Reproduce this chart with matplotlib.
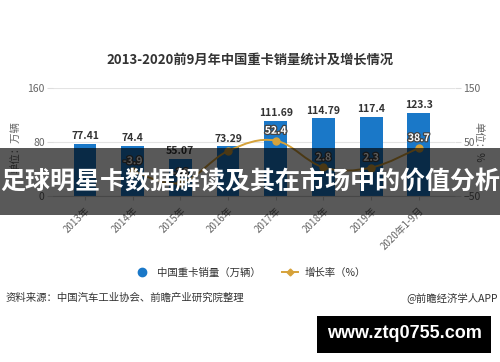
import numpy as np
import matplotlib
matplotlib.use('Agg')
import matplotlib.pyplot as plt
import matplotlib.patheffects as pe
from matplotlib.path import Path
from matplotlib.patches import PathPatch, Rectangle
from matplotlib.lines import Line2D

plt.rcParams['font.family'] = ['Noto Sans CJK SC', 'DejaVu Sans']

YEARS = ["2013年", "2014年", "2015年", "2016年", "2017年", "2018年", "2019年", "2020年1-9月"]
SALES = [77.41, 74.4, 55.07, 73.29, 111.69, 114.79, 117.4, 123.3]
# growth line starts at 2014 in the source chart
GROWTH_YEARS = YEARS[1:]
GROWTH = [-3.9, -26.0, 33.1, 52.4, 2.8, 2.3, 38.7]
GROWTH_LABELS = ["-3.9", "-26", "", "52.4", "2.8", "2.3", "38.7"]

BAR_COLOR = "#1a78c8"
LINE_COLOR = "#d6a23a"
TEXT_COLOR = "#333333"
TICK_COLOR = "#666666"


def smooth_path(xs, ys, tension=0.18):
    # cubic bezier through the points (catmull-rom style control points)
    verts = [(xs[0], ys[0])]
    codes = [Path.MOVETO]
    n = len(xs)
    for i in range(n - 1):
        x0, y0 = xs[max(i - 1, 0)], ys[max(i - 1, 0)]
        x1, y1 = xs[i], ys[i]
        x2, y2 = xs[i + 1], ys[i + 1]
        x3, y3 = xs[min(i + 2, n - 1)], ys[min(i + 2, n - 1)]
        c1 = (x1 + (x2 - x0) * tension, y1 + (y2 - y0) * tension)
        c2 = (x2 - (x3 - x1) * tension, y2 - (y3 - y1) * tension)
        verts += [c1, c2, (x2, y2)]
        codes += [Path.CURVE4] * 3
    return Path(verts, codes)


fig = plt.figure(figsize=(5, 3.62), dpi=100)
ax = fig.add_axes([0.106, 0.459, 0.804, 0.298])
x = np.arange(len(YEARS))
xg = np.array([YEARS.index(y) for y in GROWTH_YEARS])

ax.bar(x, SALES, width=0.48, color=BAR_COLOR, zorder=2)
for xi, v in zip(x, SALES):
    ax.text(xi, v + 4, f"{v:g}", ha="center", va="bottom", fontsize=7.5,
            fontweight="bold", color=TEXT_COLOR, zorder=3)

ax.set_xlim(-0.67, 7.76)
ax.set_ylim(0, 160)
ax.set_yticks([0, 80, 160])
ax.grid(axis="y", color="#e3e3e3", linewidth=0.8, zorder=0)
ax.set_axisbelow(True)
for side in ["left", "right", "top"]:
    ax.spines[side].set_visible(False)
ax.spines["bottom"].set_color("#cccccc")
ax.tick_params(axis="y", length=4, color="#dddddd", labelsize=7.5, labelcolor=TICK_COLOR, pad=2)
ax.tick_params(axis="x", length=3, color="#cccccc", labelsize=7, labelcolor=TICK_COLOR, pad=4)
ax.set_xticks(x)
ax.set_xticklabels(YEARS, rotation=45, ha="right", rotation_mode="anchor")
ax.set_ylabel("单位：万辆", fontsize=7.5, color=TICK_COLOR)
ax.yaxis.set_label_coords(-0.082, 0.45)

ax2 = ax.twinx()
ax2.set_ylim(-50, 150)
ax2.set_yticks([-50, 50, 150])
for side in ["left", "right", "top", "bottom"]:
    ax2.spines[side].set_visible(False)
ax2.tick_params(axis="y", length=4, color="#dddddd", labelsize=7.5, labelcolor=TICK_COLOR, pad=2)
ax2.set_ylabel("单位：%", fontsize=7.5, color=TICK_COLOR, rotation=-90)
ax2.yaxis.set_label_coords(1.072, 0.5)

ax2.add_patch(PathPatch(smooth_path(xg, GROWTH), facecolor="none",
                        edgecolor=LINE_COLOR, linewidth=1.4, zorder=3))
ax2.plot(xg, GROWTH, "o", color=LINE_COLOR, markersize=5, zorder=4)
for xi, v, lab in zip(xg, GROWTH, GROWTH_LABELS):
    ax2.text(xi, v + 9, lab, ha="center", va="bottom", fontsize=7.5, color="white",
             fontweight="bold", zorder=5,
             path_effects=[pe.withStroke(linewidth=1.8, foreground="#444444")])

title = "2013-2020前9月年中国重卡销量统计及增长情况"
fig.text(0.5, 1 - 60 / 362, title, ha="center", va="center", fontsize=9.5,
         fontweight="bold", color=TEXT_COLOR)

handles = [
    Line2D([], [], marker="o", linestyle="none", color=BAR_COLOR, markersize=6),
    Line2D([], [], marker="D", color=LINE_COLOR, markersize=3.5, linewidth=1.4),
]
fig.legend(handles, ["中国重卡销量（万辆）", "增长率（%）"], loc="center",
           bbox_to_anchor=(0.5, 1 - 273 / 362), ncol=2, frameon=False, fontsize=7.5,
           handlelength=1.6, columnspacing=2.0, handletextpad=0.6, labelcolor=TEXT_COLOR)

fig.text(0.012, 1 - 298 / 362, "资料来源：中国汽车工业协会、前瞻产业研究院整理",
         ha="left", va="center", fontsize=7.5, color=TEXT_COLOR)
fig.text(0.996, 1 - 298 / 362, "@前瞻经济学人APP", ha="right", va="center",
         fontsize=7.5, color=TEXT_COLOR)

# dark banner with overlaid headline
fig.add_artist(Rectangle((0, 1 - 215 / 362), 1, 67 / 362, transform=fig.transFigure,
                         facecolor="black", alpha=0.65, edgecolor="none", zorder=10))
fig.text(0.5, 1 - 182 / 362, "足球明星卡数据解读及其在市场中的价值分析", ha="center",
         va="center", fontsize=18, fontweight="bold", color="white", zorder=11)

# site stamp
fig.add_artist(Rectangle((317 / 500, 1 - 353 / 362), 174 / 500, 37 / 362,
                         transform=fig.transFigure, facecolor="black",
                         edgecolor="none", zorder=10))
fig.text(404 / 500, 1 - 334 / 362, "www.ztq0755.com", ha="center", va="center",
         fontsize=13, fontweight="bold", color="white", family="Liberation Sans", zorder=11)

fig.savefig("out.png", dpi=100)
